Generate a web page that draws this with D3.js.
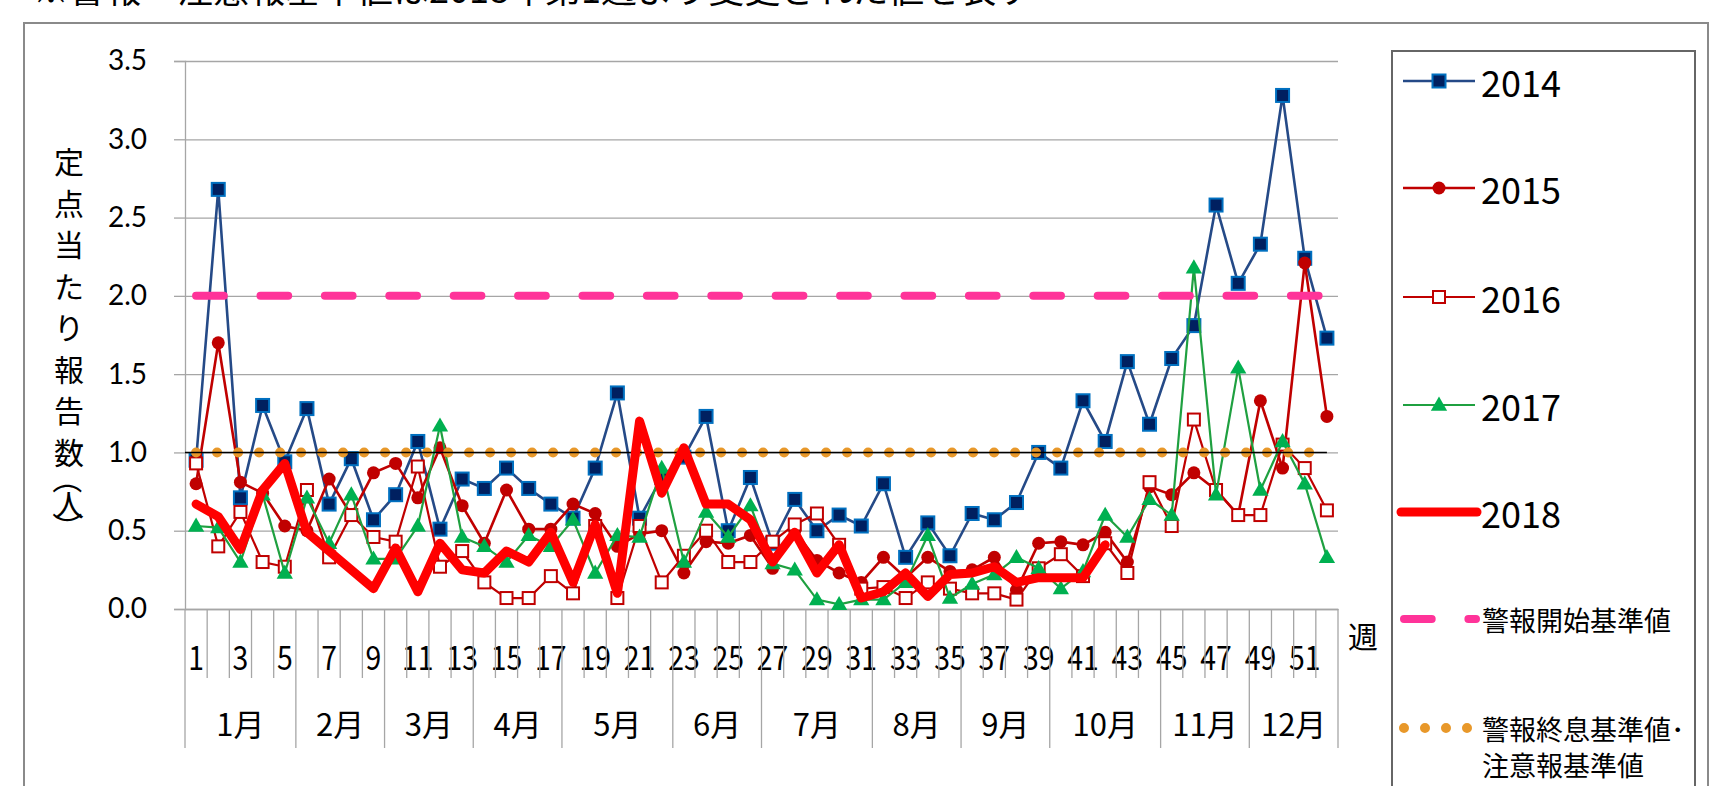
<!DOCTYPE html>
<html><head><meta charset="utf-8">
<script src="https://cdn.jsdelivr.net/npm/d3@7"></script>
<style>body{margin:0;background:#fff;overflow:hidden}</style>
</head><body>
<svg id="c" width="1710" height="786"></svg>
<script>
const weeks = [1,2,3,4,5,6,7,8,9,10,11,12,13,14,15,16,17,18,19,20,21,22,23,24,25,26,27,28,29,30,31,32,33,34,35,36,37,38,39,40,41,42,43,44,45,46,47,48,49,50,51,52];
const weekTickLabels = [1,3,5,7,9,11,13,15,17,19,21,23,25,27,29,31,33,35,37,39,41,43,45,47,49,51];
const monthLabels = ["1月","2月","3月","4月","5月","6月","7月","8月","9月","10月","11月","12月"];
const monthWeekCounts = [5,4,4,4,5,4,5,4,4,5,4,4];
const yTicks = [0,0.5,1.0,1.5,2.0,2.5,3.0,3.5];

const y2014 = [0.95,2.68,0.71,1.30,0.94,1.28,0.67,0.96,0.57,0.73,1.07,0.51,0.83,0.77,0.90,0.77,0.67,0.58,0.90,1.38,0.58,0.84,0.97,1.23,0.50,0.84,0.42,0.70,0.50,0.60,0.53,0.80,0.33,0.55,0.34,0.61,0.57,0.68,1.00,0.90,1.33,1.07,1.58,1.18,1.60,1.81,2.58,2.08,2.33,3.28,2.24,1.73];
const y2015 = [0.80,1.70,0.81,0.74,0.53,0.50,0.83,0.60,0.87,0.93,0.71,1.03,0.66,0.42,0.76,0.51,0.51,0.67,0.61,0.40,0.48,0.50,0.23,0.43,0.42,0.47,0.26,0.50,0.31,0.23,0.17,0.33,0.20,0.33,0.24,0.25,0.33,0.12,0.42,0.43,0.41,0.49,0.30,0.78,0.73,0.87,0.76,0.60,1.33,0.90,2.21,1.23];
const y2016 = [0.93,0.40,0.62,0.30,0.27,0.76,0.33,0.60,0.46,0.43,0.91,0.27,0.37,0.17,0.07,0.07,0.21,0.10,0.53,0.07,0.53,0.17,0.34,0.50,0.30,0.30,0.43,0.54,0.61,0.41,0.13,0.14,0.07,0.17,0.13,0.10,0.10,0.06,0.26,0.35,0.21,0.42,0.23,0.81,0.53,1.21,0.76,0.60,0.60,1.05,0.90,0.63];
const y2017 = [0.53,0.52,0.30,0.73,0.23,0.71,0.42,0.73,0.32,0.32,0.53,1.17,0.46,0.40,0.30,0.47,0.40,0.57,0.23,0.47,0.46,0.90,0.30,0.62,0.46,0.66,0.29,0.25,0.06,0.03,0.06,0.06,0.17,0.47,0.07,0.16,0.22,0.33,0.26,0.13,0.24,0.60,0.46,0.70,0.60,2.18,0.73,1.54,0.76,1.07,0.80,0.33];
const y2018 = [0.67,0.59,0.38,0.76,0.93,0.49,0.37,0.25,0.13,0.39,0.11,0.42,0.25,0.23,0.37,0.30,0.49,0.17,0.54,0.10,1.20,0.74,1.03,0.67,0.67,0.57,0.30,0.49,0.23,0.41,0.07,0.11,0.23,0.08,0.22,0.23,0.27,0.17,0.20,0.20,0.20,0.41,null,null,null,null,null,null,null,null,null,null];
const alertStart = [2.0,2.0,2.0,2.0,2.0,2.0,2.0,2.0,2.0,2.0,2.0,2.0,2.0,2.0,2.0,2.0,2.0,2.0,2.0,2.0,2.0,2.0,2.0,2.0,2.0,2.0,2.0,2.0,2.0,2.0,2.0,2.0,2.0,2.0,2.0,2.0,2.0,2.0,2.0,2.0,2.0,2.0,2.0,2.0,2.0,2.0,2.0,2.0,2.0,2.0,2.0,2.0];
const alertEnd = [1.0,1.0,1.0,1.0,1.0,1.0,1.0,1.0,1.0,1.0,1.0,1.0,1.0,1.0,1.0,1.0,1.0,1.0,1.0,1.0,1.0,1.0,1.0,1.0,1.0,1.0,1.0,1.0,1.0,1.0,1.0,1.0,1.0,1.0,1.0,1.0,1.0,1.0,1.0,1.0,1.0,1.0,1.0,1.0,1.0,1.0,1.0,1.0,1.0,1.0,1.0,1.0];
const legendNames = ["2014","2015","2016","2017","2018"];
const titleText = "※警報・注意報基準値は2018年第1週より変更された値を表す";
const yTitleChars = ["定","点","当","た","り","報","告","数","（","人","）"];

const JP = "'Noto Sans CJK JP', 'Noto Sans', sans-serif";
const NUM = "Lato, 'Noto Sans', sans-serif";

const svg = d3.select("#c");
const L = 185, R = 1338, T = 61, B = 609;
const x = d3.scaleBand().domain(weeks).range([L, R]).paddingInner(0).paddingOuter(0);
const cx = w => x(w) + x.bandwidth() / 2;
const y = d3.scaleLinear().domain([0, 3.5]).range([B, T]);

// title (cut off at top, as in the source image)
svg.append("text").attr("x", 33).attr("y", 3).attr("font-family", JP).attr("font-size", 36)
  .attr("fill", "#000").text(titleText);

// outer frame
svg.append("rect").attr("x", 24).attr("y", 23).attr("width", 1684).attr("height", 800)
  .attr("fill", "none").attr("stroke", "#8a8a8a").attr("stroke-width", 2);

// grid + y axis labels
const gy = svg.append("g").attr("transform", `translate(${L},0)`)
  .call(d3.axisLeft(y).tickValues(yTicks).tickSizeInner(-(R - L)).tickSizeOuter(0).tickPadding(38).tickFormat(d3.format(".1f")));
gy.select(".domain").remove();
gy.selectAll(".tick line").attr("stroke", "#a6a6a6").attr("stroke-width", 1.3);
gy.selectAll(".tick text").attr("font-family", NUM).attr("font-size", 28).attr("fill", "#000");
const gy2 = svg.append("g").attr("transform", `translate(${L},0)`)
  .call(d3.axisLeft(y).tickValues(yTicks).tickSize(11).tickFormat(""));
gy2.select(".domain").attr("stroke", "#a6a6a6").attr("stroke-width", 1.3);
gy2.selectAll(".tick line").attr("stroke", "#a6a6a6").attr("stroke-width", 1.3);

// x axis
const gx = svg.append("g").attr("transform", `translate(0,${B})`)
  .call(d3.axisBottom(x).tickValues(weekTickLabels).tickSize(0).tickPadding(38));
gx.select(".domain").attr("stroke", "#a6a6a6").attr("stroke-width", 1.3);
gx.selectAll(".tick text").attr("font-family", JP).attr("font-size", 33).attr("fill", "#000")
  .attr("transform", "scale(0.86,1)");
// week boundaries
const bounds = weeks.map(w => x(w)).concat([R]);
svg.append("g").selectAll("line").data(bounds).join("line")
  .attr("x1", d => d).attr("x2", d => d).attr("y1", B).attr("y2", 678)
  .attr("stroke", "#a6a6a6").attr("stroke-width", 1.3);
// months
let acc = 0;
const monthStarts = monthWeekCounts.map(c => { const s = acc; acc += c; return s; });
const mb = monthStarts.map(s => x(weeks[s])).concat([R]);
svg.append("g").selectAll("line").data(mb).join("line")
  .attr("x1", d => d).attr("x2", d => d).attr("y1", 678).attr("y2", 748)
  .attr("stroke", "#a6a6a6").attr("stroke-width", 1.3);
svg.append("g").selectAll("text").data(monthLabels).join("text")
  .attr("x", (d, i) => (mb[i] + mb[i + 1]) / 2).attr("y", 736)
  .attr("text-anchor", "middle").attr("font-family", JP).attr("font-size", 31).text(d => d);
svg.append("text").attr("x", 1363).attr("y", 648).attr("text-anchor", "middle")
  .attr("font-family", JP).attr("font-size", 30).text("週");

// y title
const yTitlePos = [160, 201.5, 243, 284.5, 326, 367.5, 409, 450.5, 479, 503, 527];
svg.append("g").selectAll("text").data(yTitleChars).join("text")
  .attr("x", 69).attr("y", (d, i) => yTitlePos[i])
  .attr("dominant-baseline", "central").attr("text-anchor", "middle")
  .attr("font-family", JP).attr("font-size", 30)
  .attr("transform", (d, i) => (i === 8 || i === 10) ? `rotate(90,69,${yTitlePos[i]})` : null)
  .text(d => d);

const lineD = arr => d3.line().defined(d => d.v != null).x(d => cx(d.w)).y(d => y(d.v))(arr.map((v, i) => ({ w: weeks[i], v })));
const pts = arr => arr.map((v, i) => ({ w: weeks[i], v })).filter(d => d.v != null);

const plot = svg.append("g");
// 2014
plot.append("path").attr("d", lineD(y2014)).attr("fill", "none").attr("stroke", "#254a87").attr("stroke-width", 2.6);
plot.append("g").selectAll("rect").data(pts(y2014)).join("rect")
  .attr("x", d => cx(d.w) - 6.5).attr("y", d => y(d.v) - 6.5).attr("width", 13).attr("height", 13)
  .attr("fill", "#002060").attr("stroke", "#0070c0").attr("stroke-width", 2);
// 2015
plot.append("path").attr("d", lineD(y2015)).attr("fill", "none").attr("stroke", "#c00000").attr("stroke-width", 2.6);
plot.append("g").selectAll("circle").data(pts(y2015)).join("circle")
  .attr("cx", d => cx(d.w)).attr("cy", d => y(d.v)).attr("r", 6.5).attr("fill", "#c00000");
// 2016
plot.append("path").attr("d", lineD(y2016)).attr("fill", "none").attr("stroke", "#c00000").attr("stroke-width", 2.2);
plot.append("g").selectAll("rect").data(pts(y2016)).join("rect")
  .attr("x", d => cx(d.w) - 6).attr("y", d => y(d.v) - 6).attr("width", 12).attr("height", 12)
  .attr("fill", "#fff").attr("stroke", "#c00000").attr("stroke-width", 2);
// 2017
const tri = d3.symbol().type(d3.symbolTriangle).size(115);
plot.append("path").attr("d", lineD(y2017)).attr("fill", "none").attr("stroke", "#1fa040").attr("stroke-width", 2.2);
plot.append("g").selectAll("path").data(pts(y2017)).join("path")
  .attr("d", tri).attr("transform", d => `translate(${cx(d.w)},${y(d.v) + 1})`).attr("fill", "#00b050");

// reference lines
plot.append("path").attr("d", lineD(alertStart)).attr("fill", "none").attr("stroke", "#ff3399")
  .attr("stroke-width", 8).attr("stroke-linecap", "round").attr("stroke-dasharray", "27.7 36.7");
plot.append("path").attr("d", lineD(alertEnd)).attr("fill", "none").attr("stroke", "#e8982a")
  .attr("stroke-width", 10).attr("stroke-linecap", "round").attr("stroke-dasharray", "0 21");
plot.append("line").attr("x1", L).attr("x2", cx(52)).attr("y1", y(1)).attr("y2", y(1))
  .attr("stroke", "#000").attr("stroke-width", 1.5);

// 2018
plot.append("path").attr("d", lineD(y2018)).attr("fill", "none").attr("stroke", "#ff0000")
  .attr("stroke-width", 9).attr("stroke-linejoin", "round").attr("stroke-linecap", "round");

// legend
const lg = svg.append("g");
lg.append("rect").attr("x", 1392).attr("y", 51).attr("width", 303).attr("height", 800)
  .attr("fill", "#fff").attr("stroke", "#666").attr("stroke-width", 2);
const ly = [81, 188, 297, 405, 512];
const lx1 = 1403, lx2 = 1475, lmx = 1439;
lg.append("line").attr("x1", lx1).attr("x2", lx2).attr("y1", ly[0]).attr("y2", ly[0]).attr("stroke", "#254a87").attr("stroke-width", 2.6);
lg.append("rect").attr("x", lmx - 6.5).attr("y", ly[0] - 6.5).attr("width", 13).attr("height", 13).attr("fill", "#002060").attr("stroke", "#0070c0").attr("stroke-width", 2);
lg.append("line").attr("x1", lx1).attr("x2", lx2).attr("y1", ly[1]).attr("y2", ly[1]).attr("stroke", "#c00000").attr("stroke-width", 2.6);
lg.append("circle").attr("cx", lmx).attr("cy", ly[1]).attr("r", 6.5).attr("fill", "#c00000");
lg.append("line").attr("x1", lx1).attr("x2", lx2).attr("y1", ly[2]).attr("y2", ly[2]).attr("stroke", "#c00000").attr("stroke-width", 2.2);
lg.append("rect").attr("x", lmx - 6).attr("y", ly[2] - 6).attr("width", 12).attr("height", 12).attr("fill", "#fff").attr("stroke", "#c00000").attr("stroke-width", 2);
lg.append("line").attr("x1", lx1).attr("x2", lx2).attr("y1", ly[3]).attr("y2", ly[3]).attr("stroke", "#1fa040").attr("stroke-width", 2.2);
lg.append("path").attr("d", tri).attr("transform", `translate(${lmx},${ly[3] + 1})`).attr("fill", "#00b050");
lg.append("line").attr("x1", 1401).attr("x2", 1477).attr("y1", ly[4]).attr("y2", ly[4]).attr("stroke", "#ff0000").attr("stroke-width", 9).attr("stroke-linecap", "round");
lg.selectAll("text.yr").data(legendNames).join("text").attr("class", "yr")
  .attr("x", 1481).attr("y", (d, i) => ly[i]).attr("dominant-baseline", "central")
  .attr("font-family", JP).attr("font-size", 36).text(d => d);
lg.append("line").attr("x1", 1404).attr("x2", 1476).attr("y1", 619).attr("y2", 619).attr("stroke", "#ff3399")
  .attr("stroke-width", 8).attr("stroke-linecap", "round").attr("stroke-dasharray", "27.7 36.7");
lg.append("text").attr("x", 1482).attr("y", 619).attr("dominant-baseline", "central").attr("font-family", JP).attr("font-size", 27).text("警報開始基準値");
lg.append("line").attr("x1", 1404).attr("x2", 1468).attr("y1", 728).attr("y2", 728).attr("stroke", "#e8982a")
  .attr("stroke-width", 10).attr("stroke-linecap", "round").attr("stroke-dasharray", "0 21");
lg.append("text").attr("x", 1482).attr("y", 728).attr("dominant-baseline", "central").attr("font-family", JP).attr("font-size", 27).text("警報終息基準値･");
lg.append("text").attr("x", 1482).attr("y", 764).attr("dominant-baseline", "central").attr("font-family", JP).attr("font-size", 27).text("注意報基準値");
</script>
</body></html>
